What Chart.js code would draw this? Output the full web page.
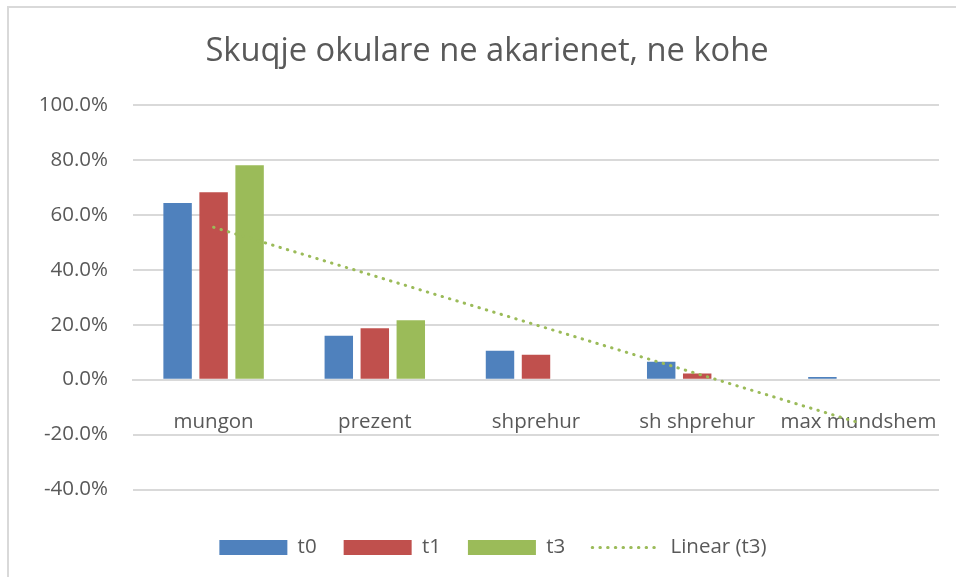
<!DOCTYPE html>
<html><head><meta charset="utf-8">
<script src="https://cdn.jsdelivr.net/npm/chart.js@4.4.1/dist/chart.umd.min.js"></script>
<style>
html,body{margin:0;padding:0;background:#fff;overflow:hidden;width:956px;height:577px}
#frame{position:absolute;left:7px;top:6px;width:1200px;height:800px;border-left:2px solid #d9d9d9;border-top:2px solid #d9d9d9}
#c{position:absolute;left:0;top:0}
</style></head><body>
<div id="frame"></div>
<canvas id="c" width="956" height="577"></canvas>
<script>
const titleText = 'Skuqje okulare ne akarienet, ne kohe';
const categories = ['mungon', 'prezent', 'shprehur', 'sh shprehur', 'max mundshem'];
const t0 = [64.3, 16.0, 10.5, 6.5, 1.0];
const t1 = [68.2, 18.7, 9.1, 2.2, 0];
const t3 = [78.1, 21.6, 0, 0, 0];
const yMin = -40, yMax = 100, yStep = 20;

// Linear trendline (least squares) of t3, as Excel's "Linear (t3)"
function linearFit(vals) {
  const n = vals.length;
  const xs = vals.map((_, i) => i + 1);
  const mx = xs.reduce((a, b) => a + b, 0) / n;
  const my = vals.reduce((a, b) => a + b, 0) / n;
  let sxy = 0, sxx = 0;
  xs.forEach((x, i) => { sxy += (x - mx) * (vals[i] - my); sxx += (x - mx) * (x - mx); });
  const b = sxy / sxx, a = my - b * mx;
  return xs.map(x => a + b * x);
}
const trendT3 = linearFit(t3);

const FONT = "'Open Sans', sans-serif";
const TXT = '#595959';
const GRID = '#d9d9d9';
const LEG_DX = 6, LEG_DY = 20.75;

const shiftLegend = {
  id: 'shiftLegend',
  afterLayout(chart) {
    const l = chart.legend;
    if (!l) return;
    l.left += LEG_DX; l.right += LEG_DX;
    l.top += LEG_DY; l.bottom += LEG_DY;
  }
};

function draw() {
  new Chart(document.getElementById('c'), {
    type: 'bar',
    data: {
      labels: categories,
      datasets: [
        { label: 't0', data: t0, backgroundColor: '#4f81bd', categoryPercentage: 0.67, barPercentage: 0.79, order: 1 },
        { label: 't1', data: t1, backgroundColor: '#c0504d', categoryPercentage: 0.67, barPercentage: 0.79, order: 1 },
        { label: 't3', data: t3, backgroundColor: '#9bbb59', categoryPercentage: 0.67, barPercentage: 0.79, order: 1 },
        { type: 'line', label: 'Linear (t3)', data: trendT3, borderColor: '#9bbb59', backgroundColor: '#9bbb59',
          borderWidth: 3, borderDash: [0.5, 7.2], borderCapStyle: 'round', pointRadius: 0, fill: false, tension: 0, order: 0 }
      ]
    },
    options: {
      responsive: false,
      animation: false,
      layout: { padding: { left: 35, right: 17, top: 0, bottom: 30 } },
      plugins: {
        tooltip: { enabled: false },
        title: {
          display: true, text: titleText, color: TXT,
          font: { family: FONT, size: 32.7, weight: 'normal', lineHeight: 1.2 },
          padding: { top: 32.4, bottom: 33.4 }
        },
        legend: {
          position: 'bottom',
          labels: {
            color: TXT,
            font: { family: FONT, size: 20.5 },
            usePointStyle: true,
            pointStyleWidth: 68,
            boxHeight: 15,
            padding: 27,
            sort: (a, b) => a.datasetIndex - b.datasetIndex,
            generateLabels(chart) {
              const items = Chart.defaults.plugins.legend.labels.generateLabels(chart);
              items.forEach(it => {
                const ds = chart.data.datasets[it.datasetIndex];
                if (ds.type === 'line') {
                  it.pointStyle = 'line'; it.lineWidth = 3; it.lineDash = [0.5, 7.2];
                  it.lineCap = 'round'; it.strokeStyle = '#9bbb59'; it.fillStyle = 'rgba(0,0,0,0)';
                } else {
                  it.pointStyle = 'rect'; it.lineWidth = 0; it.lineDash = [];
                }
              });
              return items;
            }
          }
        }
      },
      scales: {
        x: {
          position: { y: 0 },
          afterFit(scale) { scale.paddingLeft = 0; scale.paddingRight = 0; },
          grid: { display: false, drawTicks: false },
          border: { display: true, color: GRID, width: 2 },
          ticks: { color: TXT, font: { family: FONT, size: 20.5 }, padding: 30, maxRotation: 0, autoSkip: false }
        },
        y: {
          min: yMin, max: yMax,
          afterFit(scale) { scale.width = 98; },
          grid: { color: GRID, lineWidth: 2, drawTicks: false },
          border: { display: false },
          ticks: {
            stepSize: yStep, color: TXT, padding: 25,
            font: { family: FONT, size: 20.5 },
            callback: v => v.toFixed(1) + '%'
          }
        }
      }
    },
    plugins: [shiftLegend]
  });
}
Promise.all([
  document.fonts.load("20px 'Open Sans'"),
  document.fonts.load("33px 'Open Sans'")
]).then(draw, draw);
</script>
</body></html>
